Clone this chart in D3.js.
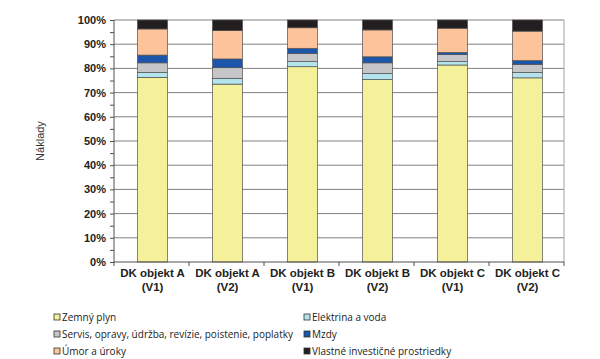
<!DOCTYPE html>
<html><head><meta charset="utf-8">
<script src="https://cdn.jsdelivr.net/npm/d3@7"></script>
<style>body{margin:0;background:#fff}svg{display:block}</style>
</head><body>
<svg id="c" width="600" height="359"></svg>
<script>
const categories = [["DK objekt A","(V1)"],["DK objekt A","(V2)"],["DK objekt B","(V1)"],["DK objekt B","(V2)"],["DK objekt C","(V1)"],["DK objekt C","(V2)"]];
const seriesNames = ["Zemný plyn","Elektrina a voda","Servis, opravy, údržba, revízie, poistenie, poplatky","Mzdy","Úmor a úroky","Vlastné investičné prostriedky"];
const zemnyPlyn   = [76.3, 73.5, 80.7, 75.4, 81.4, 76.1];
const elektrina   = [2.0, 2.4, 2.1, 2.5, 1.4, 2.2];
const servis      = [4.0, 4.4, 3.4, 4.4, 2.9, 3.4];
const mzdy        = [3.2, 3.6, 2.1, 2.5, 0.9, 1.5];
const umor        = [10.8, 11.7, 8.5, 11.1, 10.0, 12.2];
const vlastne     = [3.7, 4.4, 3.2, 4.1, 3.4, 4.6];
const yTicks = [0,10,20,30,40,50,60,70,80,90,100];
const colors = ["#f4f19a","#b3e3ec","#c6c6c8","#1c56ac","#fdc39b","#231f20"];

const seriesVals = [zemnyPlyn, elektrina, servis, mzdy, umor, vlastne];
const svg = d3.select("#c");
const L = 114, R = 564, T = 20, B = 262;
const x = d3.scaleBand().domain(d3.range(categories.length)).range([L + 1, R + 1]).paddingInner(0.6).paddingOuter(0.3);
const y = d3.scaleLinear().domain([0, 100]).range([B, T]);

// grid
svg.append("g").selectAll("line").data(yTicks.slice(1)).join("line")
  .attr("x1", L).attr("x2", R).attr("y1", d => y(d)).attr("y2", d => y(d))
  .attr("stroke", "#808080").attr("stroke-width", 1);
svg.append("line").attr("x1", R).attr("x2", R).attr("y1", T).attr("y2", B).attr("stroke", "#a0a0a0");

// bars
const data = categories.map((c, i) => { const o = {i}; seriesVals.forEach((s, k) => o["s"+k] = s[i]); return o; });
const stack = d3.stack().keys(seriesVals.map((s, k) => "s"+k))(data);
svg.append("g").selectAll("g").data(stack).join("g").attr("fill", (d, k) => colors[k])
  .selectAll("rect").data(d => d).join("rect")
  .attr("x", d => x(d.data.i)).attr("width", x.bandwidth())
  .attr("y", d => y(d[1])).attr("height", d => y(d[0]) - y(d[1]))
  .attr("stroke", "#505050").attr("stroke-width", 0.7);

// y axis
const yAxis = d3.axisLeft(y).tickValues(d3.range(0, 101, 5)).tickSize(4).tickFormat(d => d % 10 === 0 ? d + "%" : "");
const ga = svg.append("g").attr("transform", `translate(${L},0)`).call(yAxis);
ga.select(".domain").attr("stroke", "#505050").attr("d", `M-0,${T}V${B}`);
ga.selectAll(".tick line").attr("stroke", "#505050");
ga.selectAll("text").attr("font-family", "Liberation Sans, Arial, sans-serif").attr("font-weight", "bold").attr("font-size", 11).attr("fill", "#222").attr("dx", -1);

// x axis
const gx = svg.append("g").attr("transform", `translate(0,${B})`);
gx.append("line").attr("x1", L).attr("x2", R).attr("stroke", "#505050");
const bounds = d3.range(categories.length + 1).map(i => L + i * x.step());
gx.selectAll(".tk").data(bounds).join("line").attr("class", "tk")
  .attr("x1", d => d).attr("x2", d => d).attr("y1", 0).attr("y2", 4).attr("stroke", "#505050");
const lbl = gx.selectAll(".lb").data(categories).join("text").attr("class", "lb")
  .attr("x", (d, i) => x(i) + x.bandwidth() / 2).attr("text-anchor", "middle")
  .attr("font-family", "Liberation Sans, Arial, sans-serif").attr("font-weight", "bold").attr("font-size", 11.5).attr("fill", "#222");
lbl.append("tspan").attr("x", (d, i) => x(i) + x.bandwidth() / 2).attr("y", 15).text(d => d[0]);
lbl.append("tspan").attr("x", (d, i) => x(i) + x.bandwidth() / 2).attr("y", 29).text(d => d[1]);

// y title
svg.append("text").attr("transform", `translate(44,${(T + B) / 2}) rotate(-90)`).attr("text-anchor", "middle")
  .attr("font-family", "Liberation Sans, Arial, sans-serif").attr("font-size", 11).attr("fill", "#333").text("Náklady");

// legend
const legPos = [[57,317],[307,317],[57,334],[307,334],[57,351],[307,351]];
const lg = svg.append("g").selectAll("g").data(seriesNames).join("g")
  .attr("transform", (d, i) => `translate(${legPos[i][0]},${legPos[i][1]})`);
lg.append("rect").attr("x", -3).attr("y", -3).attr("width", 6).attr("height", 6)
  .attr("fill", (d, i) => colors[i]).attr("stroke", "#333").attr("stroke-width", 0.8);
lg.append("text").attr("x", 5).attr("y", 0).attr("dy", "0.35em")
  .attr("font-family", "Open Sans, sans-serif").attr("font-size", 10).attr("fill", "#222").text(d => d);
</script>
</body></html>
